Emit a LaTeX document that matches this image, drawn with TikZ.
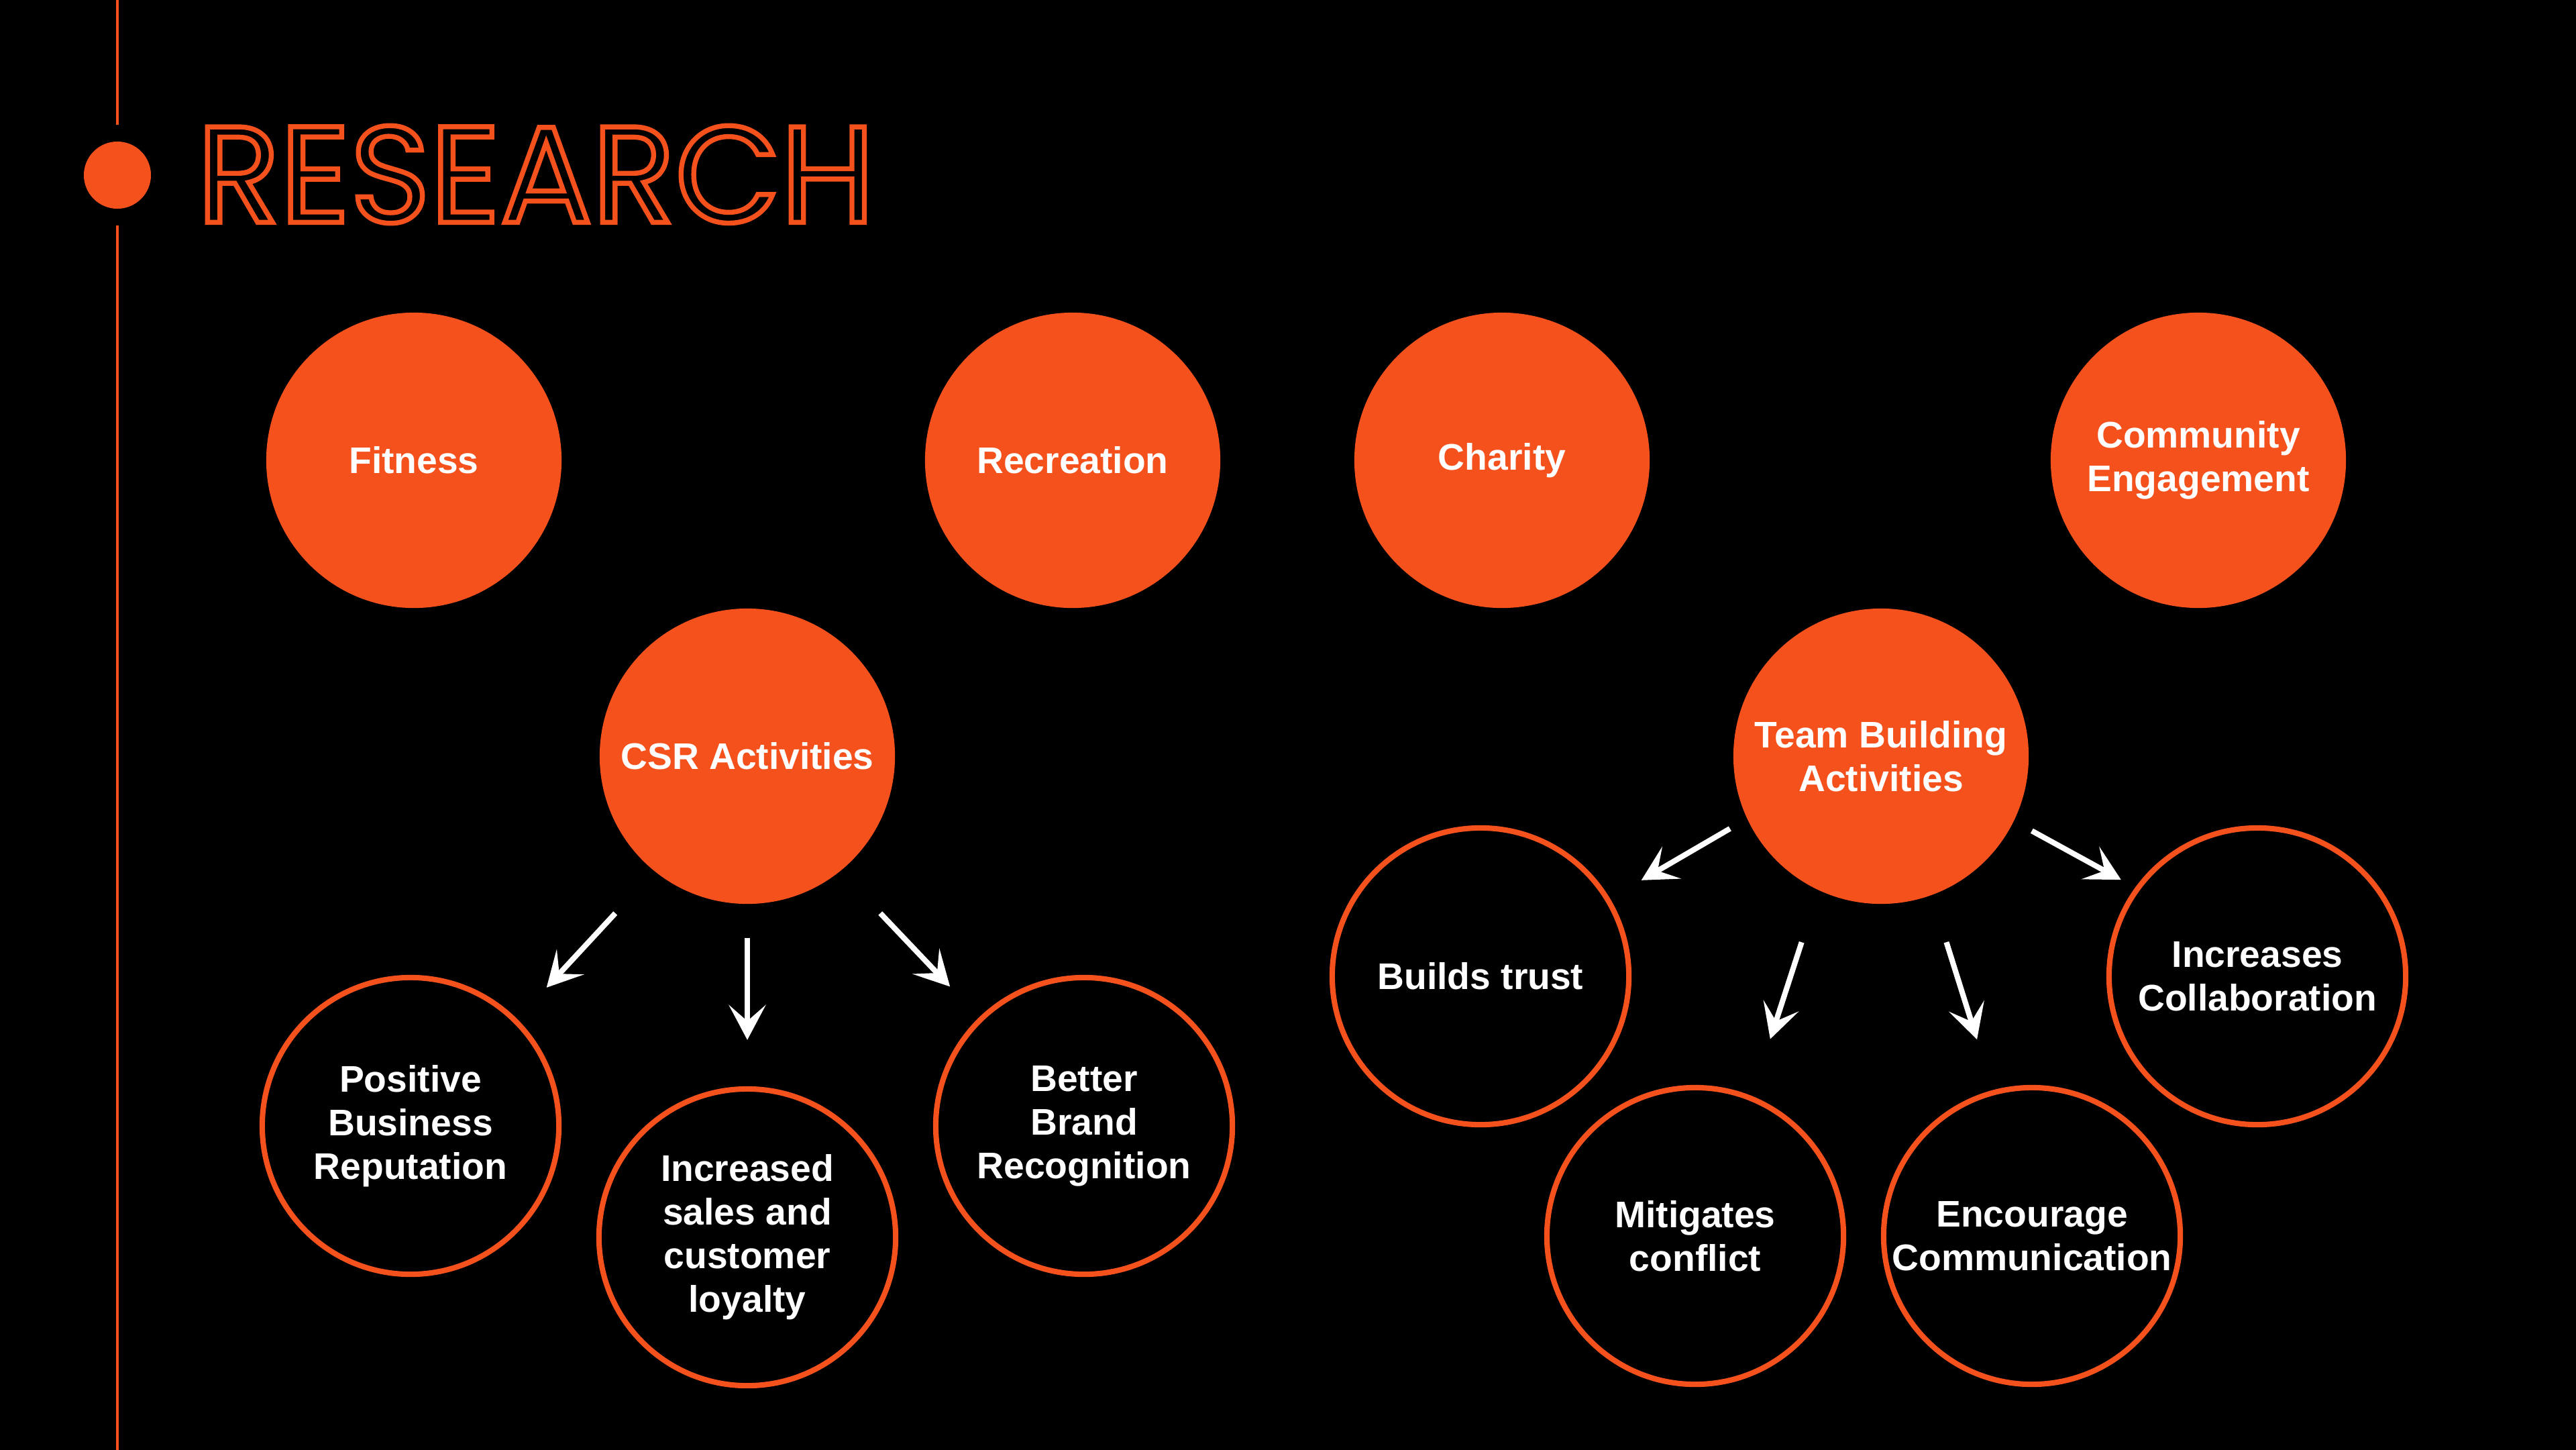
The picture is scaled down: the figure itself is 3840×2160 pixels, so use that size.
\documentclass[tikz,border=0pt]{standalone}
\usepackage{fontspec}
\setmainfont{Liberation Sans}
\newfontfamily\titlefont{Poppins}
\usetikzlibrary{arrows.meta}
\definecolor{accent}{HTML}{F5511D}
\definecolor{bg}{HTML}{000000}
\newcommand{\outlined}[1]{\special{pdf:literal 1 Tr 2.1 w}#1\special{pdf:literal 0 Tr}}
\tikzset{
  topic/.style={circle,fill=accent,minimum size=4.4cm,inner sep=0pt,align=center,text=white,font=\fontsize{15.7}{18.5}\selectfont\bfseries},
  effect/.style={topic,fill=none,draw=accent,line width=2.3pt,minimum size=4.42cm},
  ar/.style={-{Stealth[length=0.52cm,width=0.55cm,inset=0.24cm]},line width=2.3pt,draw=white},
  rule/.style={draw=accent,line width=1.4pt},
}
\begin{document}
\begin{tikzpicture}[x=0.01cm,y=-0.01cm]
\useasboundingbox (0,0) rectangle (3840,2160);
\fill[bg] (-20,-20) rectangle (3860,2180);
% side rule and title
\node[circle,fill=accent,minimum size=1cm,inner sep=0pt] (dot) at (175,261) {};
\coordinate (rtop) at (175,-20);
\coordinate (rbot) at (175,2180);
\draw[rule,shorten >=0.24cm] (rtop) -- (dot);
\draw[rule,shorten >=0.24cm] (rbot) -- (dot);
\node[anchor=west,inner sep=0pt] (title) at (293,260)
  {\resizebox{10.1cm}{1.44cm}{\titlefont\fontsize{58}{60}\selectfont\color{accent}\outlined{RESEARCH}}};
% top row
\node[topic] (fit) at (617,686) {Fitness};
\node[topic] (rec) at (1599,686) {Recreation};
\node[topic] (cha) at (2239,686) {Charity};
\node[topic] (com) at (3277,686) {Community\\Engagement};
% the two hubs
\node[topic] (csr) at (1114,1127) {CSR Activities};
\node[topic] (team) at (2804,1127) {Team Building\\Activities};
% effects
\node[effect] (pos) at (612,1678) {Positive\\Business\\Reputation};
\node[effect] (inc) at (1114,1844) {Increased\\sales and\\customer\\loyalty};
\node[effect] (bra) at (1616,1678) {Better\\Brand\\Recognition};
\node[effect] (tru) at (2207,1455) {Builds trust};
\node[effect] (mit) at (2527,1842) {Mitigates\\conflict};
\node[effect] (enc) at (3029,1842) {Encourage\\Communication};
\node[effect] (col) at (3365,1455) {Increases\\Collaboration};
% arrows
\draw[ar,shorten <=0.85cm,shorten >=0.64cm] (csr.231.3) -- (pos.45.3);
\draw[ar,shorten <=0.5cm,shorten >=0.69cm] (csr.south) -- (inc.north);
\draw[ar,shorten <=0.86cm,shorten >=0.63cm] (csr.309) -- (bra.134.6);
\draw[ar,shorten <=0.29cm,shorten >=0.54cm] (team.205.2) -- (tru.31);
\draw[ar,shorten <=0.81cm,shorten >=0.89cm] (team.245.9) -- (mit.68.6);
\draw[ar,shorten <=0.73cm,shorten >=0.79cm] (team.290.2) -- (enc.105.8);
\draw[ar,shorten <=0.30cm,shorten >=0.24cm] (team.334.9) -- (col.144.6);
\end{tikzpicture}
\end{document}
